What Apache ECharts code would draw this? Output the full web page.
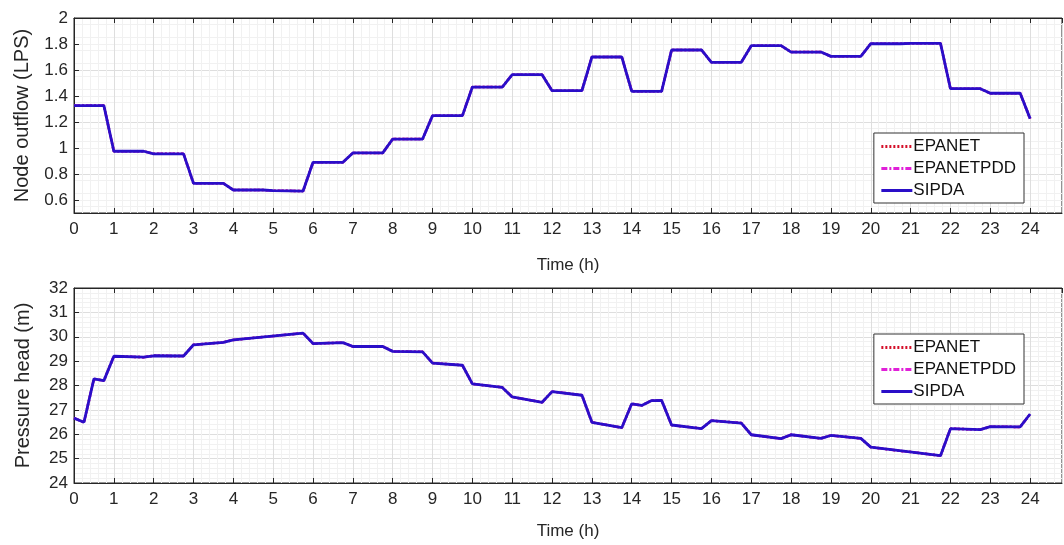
<!DOCTYPE html>
<html>
<head>
<meta charset="utf-8">
<script src="https://cdn.jsdelivr.net/npm/echarts@6/dist/echarts.min.js"></script>
<style>
  html, body { margin: 0; padding: 0; background: #fff; }
  #chart { width: 1064px; height: 545px; }
</style>
</head>
<body>
<div id="chart"></div>
<script>
// node outflow (LPS), breakpoints at each hour and hour + 0.75
const flowTime = [0, 0.75, 1, 1.75, 2, 2.75, 3, 3.75, 4, 4.75, 5, 5.75, 6, 6.75, 7, 7.75, 8, 8.75,
  9, 9.75, 10, 10.75, 11, 11.75, 12, 12.75, 13, 13.75, 14, 14.75, 15, 15.75, 16, 16.75, 17, 17.75,
  18, 18.75, 19, 19.75, 20, 20.75, 21, 21.75, 22, 22.75, 23, 23.75, 24]
const flowValues = [1.326, 1.326, 0.975, 0.975, 0.955, 0.955, 0.728, 0.728, 0.677, 0.677, 0.672, 0.669,
  0.89, 0.89, 0.962, 0.962, 1.069, 1.069, 1.249, 1.249, 1.469, 1.469, 1.564, 1.564, 1.441, 1.441,
  1.70, 1.70, 1.436, 1.436, 1.754, 1.754, 1.659, 1.659, 1.787, 1.787, 1.738, 1.738, 1.705, 1.705,
  1.802, 1.802, 1.805, 1.805, 1.456, 1.456, 1.421, 1.421, 1.226]

// pressure head (m)
const headTime = [0, 0.25, 0.5, 0.75, 1, 1.75, 2, 2.75, 3, 3.75, 4, 5.75, 6, 6.75, 7, 7.75, 8, 8.75,
  9, 9.75, 10, 10.75, 11, 11.75, 12, 12.75, 13, 13.75, 14, 14.25, 14.5, 14.75, 15, 15.75, 16, 16.75,
  17, 17.75, 18, 18.75, 19, 19.75, 20, 21.75, 22, 22.75, 23, 23.75, 24]
const headValues = [26.66, 26.49, 28.27, 28.2, 29.2, 29.16, 29.22, 29.21, 29.67, 29.77, 29.87, 30.15,
  29.72, 29.76, 29.6, 29.6, 29.4, 29.38, 28.92, 28.83, 28.07, 27.92, 27.53, 27.31, 27.75, 27.6,
  26.49, 26.27, 27.25, 27.18, 27.38, 27.39, 26.38, 26.23, 26.56, 26.46, 25.98, 25.82, 25.98, 25.83,
  25.95, 25.83, 25.47, 25.12, 26.23, 26.19, 26.31, 26.30, 26.83]

const seriesNames = ['EPANET', 'EPANETPDD', 'SIPDA']
const flowTicks = [0.6, 0.8, 1, 1.2, 1.4, 1.6, 1.8, 2]

const FONT = '"Liberation Sans", Arial, sans-serif'
const TXT = '#262626'

const pairs = (xs, ys) => xs.map((x, i) => [x, ys[i]])

const lineStyles = [
  { color: '#d4102a', width: 2.5, type: [2, 2] },
  { color: '#e020d8', width: 2.5, type: [6, 2, 2, 2] },
  { color: '#2a0ec8', width: 2.8, type: 'solid' }
]

function makeSeries(gridIdx, data) {
  return seriesNames.map((name, i) => ({
    name: name,
    type: 'line',
    xAxisIndex: gridIdx * 2,
    yAxisIndex: gridIdx,
    data: data,
    symbol: 'none',
    animation: false,
    color: lineStyles[i].color,
    lineStyle: lineStyles[i],
    z: 2 + i
  }))
}

function timeAxis(gridIdx, gap) {
  return {
    type: 'value',
    gridIndex: gridIdx,
    min: 0,
    max: 24.8,
    interval: 1,
    name: 'Time (h)',
    nameLocation: 'middle',
    nameGap: gap,
    nameTextStyle: { color: TXT, fontSize: 17, fontFamily: FONT },
    axisLine: { lineStyle: { color: TXT } },
    axisTick: { inside: true, length: 5, lineStyle: { color: TXT } },
    axisLabel: { color: TXT, fontSize: 17, fontFamily: FONT, margin: 8, showMaxLabel: false },
    splitLine: { show: true, lineStyle: { color: '#dedede' } },
    minorTick: { show: false, splitNumber: 5 },
    minorSplitLine: { show: true, lineStyle: { color: '#f1f1f1' } }
  }
}

function topAxis(gridIdx) {
  return {
    type: 'value',
    gridIndex: gridIdx,
    position: 'top',
    min: 0,
    max: 24.8,
    interval: 1,
    axisLine: { lineStyle: { color: TXT } },
    axisTick: { inside: true, length: 5, lineStyle: { color: TXT } },
    axisLabel: { show: false },
    splitLine: { show: false }
  }
}

function legendAt(top) {
  return {
    data: seriesNames,
    orient: 'vertical',
    right: 40,
    top: top,
    itemWidth: 31,
    itemHeight: 12,
    itemGap: 5,
    padding: [5, 8, 4, 6],
    borderColor: '#333',
    borderWidth: 1,
    borderRadius: 0,
    backgroundColor: '#fff',
    selectedMode: false,
    itemStyle: { opacity: 0 },
    lineStyle: { width: 3 },
    textStyle: { color: '#111', fontSize: 17, fontFamily: FONT, padding: [0, 0, 0, -4] }
  }
}

const chart = echarts.init(document.getElementById('chart'))

chart.setOption({
  backgroundColor: '#fff',
  animation: false,
  legend: [legendAt(133), legendAt(334)],
  grid: [
    { left: 74, top: 18, width: 988, height: 195, show: true, borderColor: TXT, borderWidth: 1, backgroundColor: 'transparent' },
    { left: 74, top: 288, width: 988, height: 195, show: true, borderColor: TXT, borderWidth: 1, backgroundColor: 'transparent' }
  ],
  xAxis: [timeAxis(0, 44), topAxis(0), timeAxis(1, 40), topAxis(1)],
  yAxis: [
    {
      type: 'value',
      gridIndex: 0,
      min: 0.5,
      max: 2,
      interval: 0.1,
      name: 'Node outflow (LPS)',
      nameLocation: 'middle',
      nameGap: 42,
      nameTextStyle: { color: TXT, fontSize: 20, fontFamily: FONT },
      axisLine: { show: true, lineStyle: { color: TXT } },
      axisTick: { inside: true, length: 5, customValues: flowTicks, lineStyle: { color: TXT } },
      axisLabel: {
        color: TXT, fontSize: 17, fontFamily: FONT, margin: 6,
        formatter: v => (Math.round(v * 10) % 2 === 0 ? String(Math.round(v * 10) / 10) : '')
      },
      splitLine: { show: true, lineStyle: { color: ['#f1f1f1', '#dedede'] } },
      minorTick: { show: false, splitNumber: 2 },
      minorSplitLine: { show: true, lineStyle: { color: '#f1f1f1' } }
    },
    {
      type: 'value',
      gridIndex: 1,
      min: 24,
      max: 32,
      interval: 1,
      name: 'Pressure head (m)',
      nameLocation: 'middle',
      nameGap: 41,
      nameTextStyle: { color: TXT, fontSize: 20, fontFamily: FONT },
      axisLine: { show: true, lineStyle: { color: TXT } },
      axisTick: { inside: true, length: 5, lineStyle: { color: TXT } },
      axisLabel: { color: TXT, fontSize: 17, fontFamily: FONT, margin: 6 },
      splitLine: { show: true, lineStyle: { color: '#dedede' } },
      minorTick: { show: false, splitNumber: 5 },
      minorSplitLine: { show: true, lineStyle: { color: '#f1f1f1' } }
    }
  ],
  series: [
    ...makeSeries(0, pairs(flowTime, flowValues)),
    ...makeSeries(1, pairs(headTime, headValues))
  ]
})
</script>
</body>
</html>
